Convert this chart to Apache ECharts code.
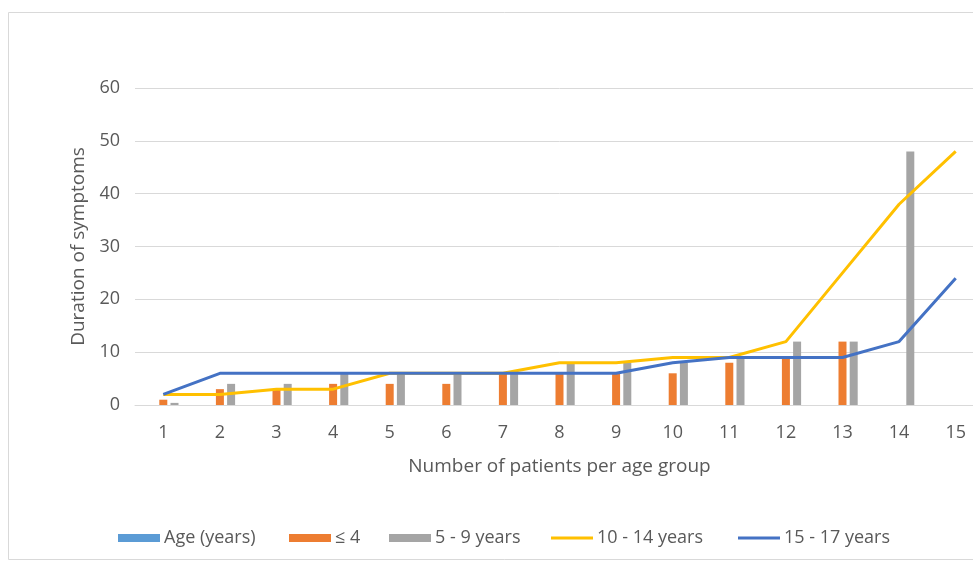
<!DOCTYPE html>
<html>
<head>
<meta charset="utf-8">
<script src="https://cdn.jsdelivr.net/npm/echarts@6/dist/echarts.min.js"></script>
<style>html,body{margin:0;padding:0;background:#fff;overflow:hidden}#c{width:1000px;height:564px}</style>
</head>
<body>
<div id="c"></div>
<script>
const categories = ['1','2','3','4','5','6','7','8','9','10','11','12','13','14','15'];
const ageYears = ['-','-','-','-','-','-','-','-','-','-','-','-','-','-','-'];
const upTo4 = [1,3,3,4,4,4,6,6,6,6,8,9,12,'-','-'];
const years5to9 = [0.4,4,4,6,6,6,6,8,8,8,9,12,12,48,'-'];
const years10to14 = [2,2,3,3,6,6,6,8,8,9,9,12,25,38,48];
const years15to17 = [2,6,6,6,6,6,6,6,6,8,9,9,9,12,24];
const yTicks = {min:0, max:60, interval:10};

const font = 'Open Sans';
const txt = '#595959';
const chart = echarts.init(document.getElementById('c'));
function lg(name, left, icon, h){
  return {data:[{name:name, icon:icon}], left:left, top:524, itemWidth:42, itemHeight:h, itemGap:4,
    textStyle:{fontFamily:font, fontSize:18, color:txt, padding:[0,0,0,-1]}, selectedMode:false};
}
chart.setOption({
  animation:false,
  graphic:[{type:'rect', shape:{x:8.5,y:12.5,width:1000,height:547}, style:{fill:'none', stroke:'#D9D9D9', lineWidth:1}}],
  grid:{left:135, top:88, bottom:159, right:16},
  legend:[
    lg('Age (years)',113,'rect',8),
    lg('≤ 4',284,'rect',8),
    lg('5 - 9 years',384,'rect',8),
    lg('10 - 14 years',546,'rect',3),
    lg('15 - 17 years',733,'rect',3)
  ],
  xAxis:{type:'category', data:categories, boundaryGap:true,
    name:'Number of patients per age group', nameLocation:'middle', nameGap:52,
    nameTextStyle:{fontFamily:font, fontSize:19, color:txt},
    axisLine:{lineStyle:{color:'#D9D9D9'}}, axisTick:{show:false},
    axisLabel:{fontFamily:font, fontSize:18, color:txt, margin:19}},
  yAxis:{type:'value', min:yTicks.min, max:yTicks.max, interval:yTicks.interval,
    name:'Duration of symptoms', nameLocation:'middle', nameGap:45, nameRotate:90,
    nameTextStyle:{fontFamily:font, fontSize:19, color:txt},
    axisLine:{show:false}, axisTick:{show:false},
    splitLine:{lineStyle:{color:'#D9D9D9'}},
    axisLabel:{fontFamily:font, fontSize:18, color:txt, margin:15}},
  series:[
    {name:'Age (years)', type:'bar', data:ageYears, barWidth:8, barGap:'40%', itemStyle:{color:'#5B9BD5'}},
    {name:'≤ 4', type:'bar', data:upTo4, barWidth:8, barGap:'40%', itemStyle:{color:'#ED7D31'}},
    {name:'5 - 9 years', type:'bar', data:years5to9, barWidth:8, barGap:'40%', itemStyle:{color:'#A5A5A5'}},
    {name:'10 - 14 years', type:'line', data:years10to14, showSymbol:false, symbol:'none', z:3,
      lineStyle:{color:'#FFC000', width:3}, itemStyle:{color:'#FFC000'}},
    {name:'15 - 17 years', type:'line', data:years15to17, showSymbol:false, symbol:'none', z:4,
      lineStyle:{color:'#4472C4', width:3}, itemStyle:{color:'#4472C4'}}
  ]
});
</script>
</body>
</html>
